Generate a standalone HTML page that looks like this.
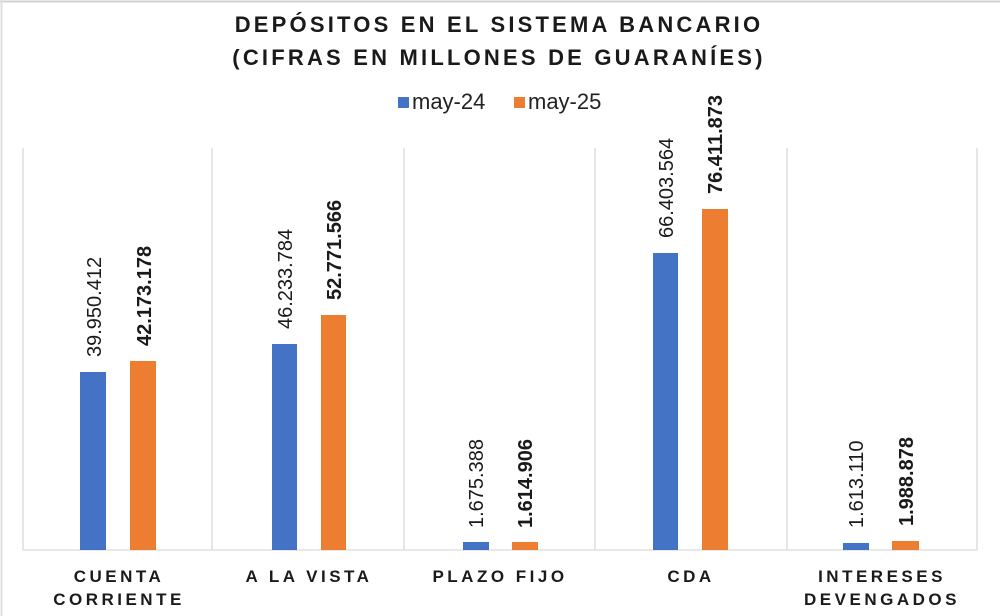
<!DOCTYPE html>
<html><head><meta charset="utf-8"><style>
body{margin:0;background:#fff;}
svg{display:block;font-family:"Liberation Sans",Arial,sans-serif;}
</style></head><body>
<svg width="1000" height="616" viewBox="0 0 1000 616">
<rect x="0" y="0" width="1000" height="616" fill="#fff"/>
<line x1="0" y1="1.5" x2="1000" y2="1.5" stroke="#d0d0d0" stroke-width="2"/>
<line x1="1.5" y1="0" x2="1.5" y2="616" stroke="#e0e0e0" stroke-width="2"/>
<g font-weight="bold" font-size="22" fill="#1a1a1a" text-anchor="middle" letter-spacing="3.2">
<text x="499" y="32">DEPÓSITOS EN EL SISTEMA BANCARIO</text>
<text x="499" y="65">(CIFRAS EN MILLONES DE GUARANÍES)</text>
</g>
<rect x="398" y="97" width="11" height="11" fill="#4472c4"/>
<text x="412" y="109" font-size="22" fill="#222">may-24</text>
<rect x="514" y="97" width="11" height="11" fill="#ed7d31"/>
<text x="528" y="109" font-size="22" fill="#222">may-25</text>
<g stroke="#d9d9d9" stroke-width="1.3">
<line x1="23" y1="148" x2="23" y2="550"/>
<line x1="212" y1="148" x2="212" y2="550"/>
<line x1="404" y1="148" x2="404" y2="550"/>
<line x1="595" y1="148" x2="595" y2="550"/>
<line x1="787" y1="148" x2="787" y2="550"/>
<line x1="977" y1="148" x2="977" y2="550"/>
<line x1="23" y1="550" x2="977" y2="550"/>
</g>
<g fill="#4472c4">
<rect x="80" y="372" width="26" height="178"/>
<rect x="272" y="344" width="25" height="206"/>
<rect x="463" y="542" width="26" height="8"/>
<rect x="653" y="253" width="25" height="297"/>
<rect x="843" y="543" width="26" height="7"/>
</g>
<g fill="#ed7d31">
<rect x="130" y="361" width="26" height="189"/>
<rect x="321" y="315" width="25" height="235"/>
<rect x="512" y="542" width="26" height="8"/>
<rect x="702" y="209" width="26" height="341"/>
<rect x="892" y="541" width="27" height="9"/>
</g>
<g font-size="20" fill="#1a1a1a">
<text transform="translate(101,357) rotate(-90)">39.950.412</text>
<text transform="translate(292,329) rotate(-90)">46.233.784</text>
<text transform="translate(483,528) rotate(-90)">1.675.388</text>
<text transform="translate(673,238) rotate(-90)">66.403.564</text>
<text transform="translate(863,528) rotate(-90)">1.613.110</text>
</g>
<g font-size="20" fill="#1a1a1a" font-weight="bold">
<text transform="translate(151,346) rotate(-90)">42.173.178</text>
<text transform="translate(341,300) rotate(-90)">52.771.566</text>
<text transform="translate(532,528) rotate(-90)">1.614.906</text>
<text transform="translate(722,194) rotate(-90)">76.411.873</text>
<text transform="translate(913,526) rotate(-90)">1.988.878</text>
</g>
<g font-size="17" font-weight="bold" fill="#1a1a1a" text-anchor="middle" letter-spacing="3.5">
<text x="119" y="582">CUENTA</text>
<text x="119" y="605">CORRIENTE</text>
<text x="309" y="582">A LA VISTA</text>
<text x="500" y="582">PLAZO FIJO</text>
<text x="691" y="582">CDA</text>
<text x="882" y="582">INTERESES</text>
<text x="882" y="605">DEVENGADOS</text>
</g>
</svg>
</body></html>
